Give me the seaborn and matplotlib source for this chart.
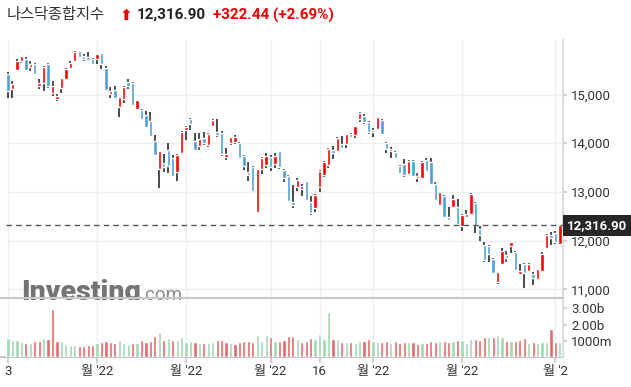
import numpy as np
import pandas as pd
import seaborn as sns
import matplotlib.pyplot as plt
import matplotlib.transforms as mtransforms
from matplotlib.ticker import FuncFormatter

# --- dados (Nasdaq diário, 3 dez 2021 -> 2 jun 2022) ---
opens = [15421, 15120, 15510, 15688, 15729, 15571, 15626, 15181, 15229, 15626,
         15038, 14914, 15140, 15318, 15551, 15695, 15893, 15790, 15770, 15729,
         15729, 15852, 15551, 15017, 15092, 14750, 14914, 15257, 15236, 14709,
         14682, 14579, 14456, 14039, 13478, 13594, 13861, 13703, 13416, 13799,
         14271, 14497, 14045, 13950, 14114, 13963, 14353, 14237, 14210, 13724,
         13998, 14032, 14004, 13744, 13416, 13519, 12580, 13478, 13553, 13717,
         13566, 13833, 13450, 13334, 12793, 13107, 13060, 13224, 12793, 12676,
         13100, 13347, 13553, 13861, 13846, 13984, 13984, 14196, 14169, 14490,
         14566, 14435, 14280, 14292, 14477, 14004, 13833, 13820, 13539, 13566,
         13361, 13635, 13279, 13293, 13649, 13608, 13160, 12735, 12916, 12492,
         12697, 12684, 12307, 12485, 12553, 12772, 12246, 11910, 11890, 11623,
         11158, 11520, 11705, 11897, 11767, 11322, 11520, 11377, 11315, 11206,
         11384, 11856, 12116, 12164, 11924]
highs = [15455, 15277, 15722, 15795, 15777, 15681, 15647, 15311, 15585, 15647,
         15284, 15010, 15346, 15537, 15695, 15886, 15900, 15825, 15866, 15749,
         15838, 15862, 15585, 15147, 15168, 14956, 15175, 15325, 15250, 14894,
         14696, 14661, 14634, 14162, 13847, 13779, 13998, 13751, 13779, 14251,
         14353, 14518, 14203, 14203, 14223, 14217, 14490, 14490, 14251, 13909,
         14135, 14162, 14025, 13758, 13608, 13532, 13475, 13724, 13799, 13765,
         13792, 13847, 13464, 13348, 13136, 13280, 13162, 13234, 12916, 12958,
         13450, 13634, 13909, 13950, 14121, 14142, 14189, 14210, 14360, 14648,
         14593, 14456, 14318, 14545, 14490, 14018, 13915, 13840, 13560, 13669,
         13655, 13655, 13395, 13635, 13690, 13690, 13197, 13005, 12930, 12697,
         12937, 12855, 12540, 12629, 12970, 12785, 12300, 11965, 11910, 11650,
         11360, 11842, 11794, 11972, 11787, 11527, 11534, 11534, 11349, 11425,
         11774, 12129, 12184, 12204, 12320]
lows = [14935, 14935, 15503, 15640, 15489, 15482, 15407, 15106, 15072, 15140,
        14969, 14860, 15024, 15298, 15530, 15681, 15756, 15681, 15695, 15619,
        15633, 15517, 15079, 14921, 14914, 14531, 14832, 15120, 14771, 14696,
        14490, 14326, 14134, 13738, 13087, 13402, 13382, 13306, 13231, 13779,
        14066, 14271, 13840, 13854, 13963, 13929, 14326, 14121, 13731, 13655,
        13963, 13977, 13690, 13450, 13231, 13005, 12574, 13361, 13498, 13430,
        13491, 13464, 13211, 12810, 12664, 13025, 12922, 12820, 12532, 12594,
        12992, 13313, 13498, 13676, 13846, 13894, 13894, 14101, 14101, 14435,
        14387, 14189, 14121, 14278, 14162, 13792, 13690, 13690, 13368, 13313,
        13340, 13313, 13211, 13280, 13416, 13142, 12820, 12720, 12458, 12410,
        12680, 12307, 12198, 12458, 12540, 12150, 11984, 11555, 11568, 11310,
        11103, 11500, 11568, 11739, 11377, 11308, 11021, 11360, 11089, 11190,
        11370, 11842, 11910, 11924, 11900]
closes = [15072, 15216, 15688, 15790, 15510, 15633, 15414, 15243, 15565, 15181,
          15175, 14976, 15332, 15524, 15647, 15866, 15770, 15736, 15708, 15633,
          15832, 15619, 15092, 15072, 14935, 14949, 15147, 15181, 14791, 14887,
          14504, 14340, 14155, 13765, 13840, 13512, 13539, 13334, 13765, 14230,
          14333, 14401, 13861, 14087, 14004, 14189, 14477, 14169, 13779, 13779,
          14128, 14128, 13703, 13532, 13348, 13026, 13470, 13696, 13737, 13519,
          13737, 13519, 13293, 12821, 12740, 13251, 13130, 12830, 12575, 12940,
          13430, 13620, 13881, 13806, 14101, 13908, 14189, 14135, 14353, 14620,
          14442, 14224, 14230, 14531, 14189, 13888, 13881, 13703, 13395, 13348,
          13635, 13334, 13334, 13608, 13436, 13163, 12839, 13000, 12490, 12430,
          12855, 12335, 12526, 12553, 12957, 12314, 12122, 11602, 11719, 11336,
          11349, 11787, 11643, 11972, 11404, 11377, 11329, 11520, 11240, 11411,
          11719, 12109, 12061, 11979, 12317]
# volume em bilhões
volumes = [1.15, 1.02, 1.02, 0.90, 0.84, 0.84, 0.96, 0.96, 1.15, 1.08,
           2.94, 0.96, 0.96, 0.78, 0.71, 0.71, 0.65, 0.65, 0.71, 0.71,
           0.84, 0.90, 0.96, 0.90, 0.84, 1.02, 0.84, 0.78, 0.84, 0.84,
           1.02, 0.90, 0.96, 1.27, 1.51, 1.02, 1.15, 1.02, 1.02, 1.21,
           0.90, 0.96, 0.90, 0.84, 0.84, 0.84, 0.90, 1.02, 1.02, 0.90,
           0.84, 0.78, 0.90, 0.96, 0.96, 0.90, 1.33, 0.96, 1.33, 1.21,
           0.96, 0.96, 1.02, 1.27, 1.27, 1.08, 0.90, 0.96, 1.15, 1.09,
           1.39, 1.09, 2.75, 1.09, 1.09, 0.90, 0.90, 0.90, 0.84, 1.00,
           0.96, 1.09, 0.96, 0.90, 0.90, 1.00, 0.84, 0.96, 0.84, 0.90,
           0.90, 0.90, 0.78, 0.84, 0.84, 0.96, 0.90, 0.96, 0.96, 0.90,
           0.96, 1.02, 1.02, 0.84, 1.10, 1.10, 1.02, 1.21, 1.21, 1.21,
           1.33, 1.21, 0.96, 0.96, 0.96, 1.02, 1.15, 0.84, 0.90, 0.84,
           0.90, 0.90, 1.72, 0.90, 0.90]
# g = fechamento acima do anterior, r = abaixo
vol_dir = ['g', 'g', 'g', 'g', 'r', 'g', 'r', 'r', 'g', 'r',
           'r', 'r', 'g', 'g', 'g', 'g', 'r', 'r', 'r', 'r',
           'g', 'r', 'r', 'r', 'r', 'g', 'g', 'g', 'r', 'g',
           'r', 'r', 'r', 'r', 'g', 'r', 'g', 'r', 'g', 'g',
           'g', 'g', 'r', 'g', 'r', 'g', 'g', 'r', 'r', 'r',
           'g', 'r', 'r', 'r', 'r', 'r', 'g', 'g', 'g', 'r',
           'g', 'r', 'r', 'r', 'r', 'g', 'r', 'r', 'r', 'g',
           'g', 'g', 'g', 'r', 'g', 'r', 'g', 'r', 'g', 'g',
           'r', 'r', 'g', 'g', 'r', 'r', 'g', 'r', 'r', 'r',
           'g', 'r', 'r', 'g', 'r', 'r', 'r', 'g', 'r', 'r',
           'g', 'r', 'g', 'g', 'g', 'r', 'r', 'r', 'g', 'r',
           'g', 'g', 'r', 'g', 'r', 'r', 'r', 'g', 'r', 'g',
           'g', 'g', 'r', 'r', 'g']
last_price = 12316.90
price_ticks = [11000, 12000, 13000, 14000, 15000]
vol_ticks = [1, 2, 3]
vol_tick_labels = ['1000m', '2.00b', '3.00b']
tick_pos = [0, 20, 40, 59, 70, 82, 102, 123]
tick_labels = ['3', "월 '22", "월 '22", "월 '22", '16', "월 '22", "월 '22", "월 '2"]

sns.set_theme(style='white', rc={'axes.facecolor': 'white', 'figure.facecolor': 'white'})
plt.rcParams['font.family'] = ['Roboto', 'Noto Sans CJK KR', 'DejaVu Sans']

W, H = 631, 387
fig = plt.figure(figsize=(W / 100, H / 100), dpi=100)


def box(l, t, r, b):
    return [l / W, 1 - b / H, (r - l) / W, (b - t) / H]


ax = fig.add_axes(box(0, 40, 563, 298))
axv = fig.add_axes(box(0, 300, 563, 357), sharex=ax)

# --- candles ---
idx = np.arange(len(closes))
o = np.array(opens)
c = np.array(closes)
up = c >= o
ax.vlines(idx, lows, highs, color='#2b2b2b', lw=1.2, zorder=3)
ax.bar(idx, np.maximum(np.abs(c - o), 25), bottom=np.minimum(o, c), width=0.76,
       color=np.where(up, '#ff0000', '#4f9fd6'), zorder=4)

# --- volume ---
vol_df = pd.DataFrame({'idx': idx, 'vol': volumes,
                       'dir': ['up' if d == 'g' else 'down' for d in vol_dir]})
sns.barplot(data=vol_df, x='idx', y='vol', hue='dir', native_scale=True,
            palette={'up': '#a2d6b2', 'down': '#e26a6a'}, dodge=False, width=0.72,
            saturation=1, errorbar=None, legend=False, ax=axv, zorder=3)

# --- grades ---
for a in (ax, axv):
    for t in tick_pos:
        a.axvline(t, color='#efefef', lw=1, zorder=0)
for p in price_ticks:
    ax.axhline(p, xmin=8 / 563, color='#efefef', lw=1, zorder=0)

ax.set_xlim(-1.8, 124.7)
ax.set_ylim(10822, 16119)
axv.set_ylim(0, 3.51)

ax.yaxis.tick_right()
ax.set_yticks(price_ticks)
ax.yaxis.set_major_formatter(FuncFormatter(lambda v, _: f'{v:,.0f}'))
ax.tick_params(axis='y', length=3, color='#cccccc', labelsize=9.5, labelcolor='#333333', pad=3)
ax.tick_params(axis='x', bottom=False, labelbottom=False)

axv.yaxis.tick_right()
axv.set_yticks(vol_ticks)
axv.set_yticklabels(vol_tick_labels)
axv.set_xticks(tick_pos)
axv.set_xticklabels(tick_labels)
axv.tick_params(axis='y', length=3, color='#cccccc', labelsize=9.5, labelcolor='#333333', pad=3)
axv.tick_params(axis='x', bottom=True, length=4, color='#cccccc', labelsize=9.5,
                labelcolor='#333333', pad=2)
axv.set_xlabel('')
axv.set_ylabel('')

for a in (ax, axv):
    a.spines['top'].set_visible(False)
    a.spines['left'].set_visible(False)
    a.spines['right'].set_color('#d6d6d6')
    a.spines['bottom'].set_color('#c8c8c8')
    a.spines['bottom'].set_linewidth(1.5)

# --- último preço ---
ax.axhline(last_price, xmin=6 / 563, color='#555555', lw=1, ls=(0, (4, 3)), zorder=5)
trans = mtransforms.blended_transform_factory(ax.transAxes, ax.transData)
ax.text(1.007, last_price, f'{last_price:,.2f}', transform=trans, ha='left', va='center',
        color='white', fontsize=9.5, fontweight='bold', clip_on=False,
        bbox=dict(boxstyle='square,pad=0.3', fc='#262626', ec='none'))

# --- marca d'água ---
ax.text(21 / 563, -0.008, 'Investing', transform=ax.transAxes, ha='left', va='baseline',
        fontsize=20.5, fontweight='black', color='#747474', zorder=1)
ax.text(141 / 563, -0.008, '.com', transform=ax.transAxes, ha='left', va='baseline',
        fontsize=13.5, color='#8a8a8a', zorder=1)


# --- título ---
def ftxt(x, y, s, **kw):
    fig.text(x / W, 1 - y / H, s, va='center', ha='left', **kw)


ftxt(7, 15, '나스닥종합지수', fontsize=11, color='#333333', family=['Noto Sans CJK KR'])
ftxt(120, 15, '⬆', fontsize=11, fontweight='bold', color='#ee0000', family=['DejaVu Sans'])
ftxt(137, 15, f'{last_price:,.2f}', fontsize=11, fontweight='bold', color='#222222')
ftxt(213, 15, '+322.44 (+2.69%)', fontsize=11, fontweight='bold', color='#ee0000')

fig.savefig('out.png', dpi=100)
